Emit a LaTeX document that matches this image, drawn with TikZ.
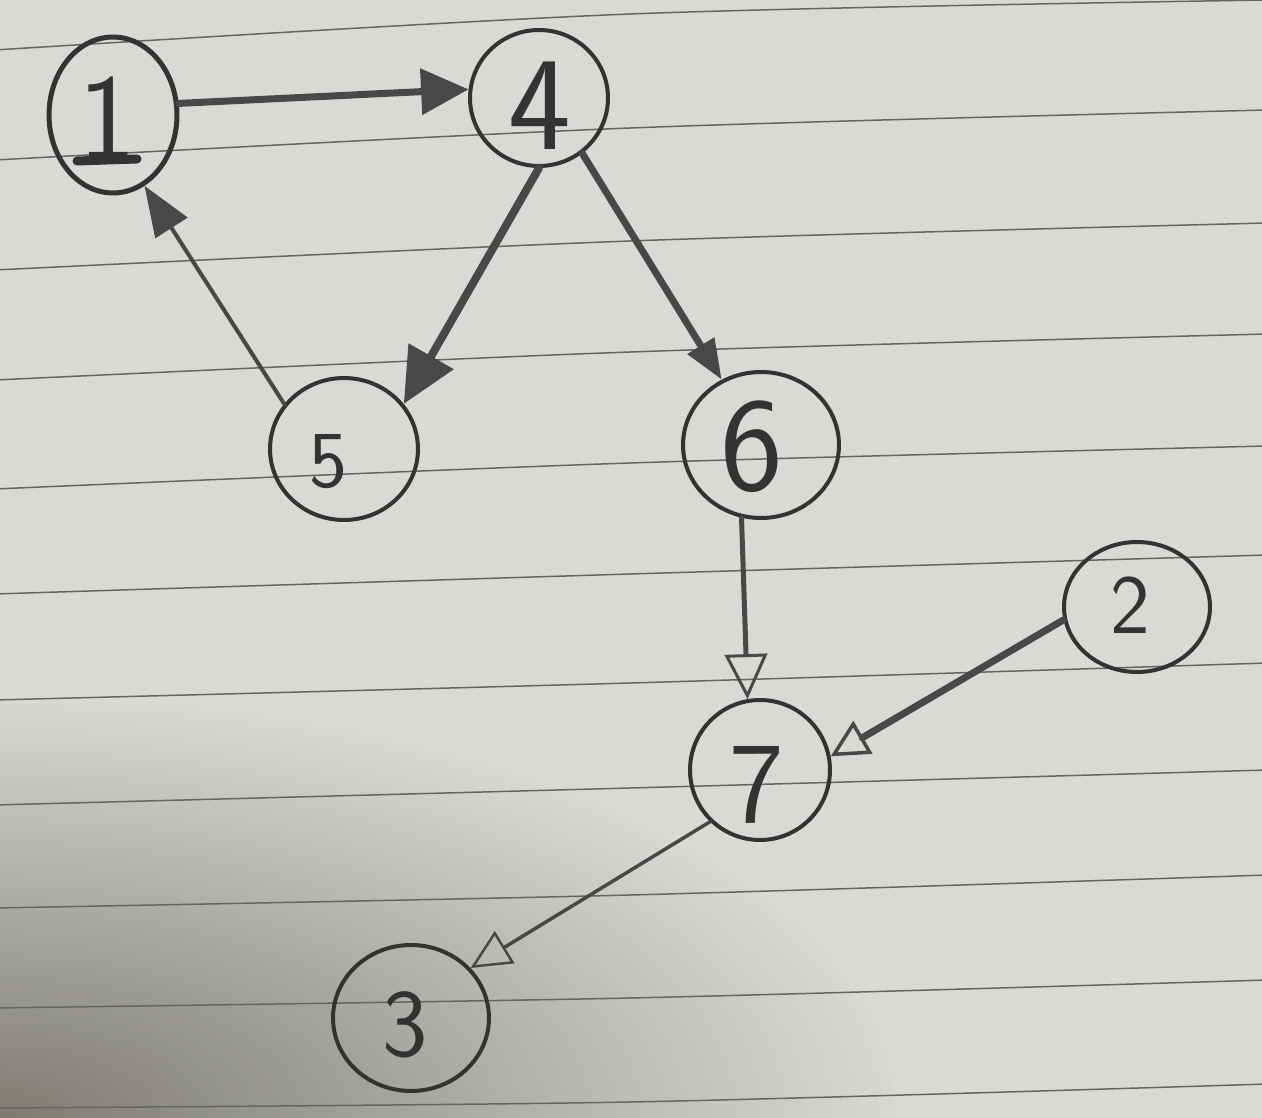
\documentclass[tikz,border=0pt]{standalone}
\usetikzlibrary{arrows.meta,shapes.geometric,fadings}
\definecolor{paper}{HTML}{DAD9D5}
\definecolor{shadowc}{HTML}{6E6B64}
\definecolor{ruling}{HTML}{666562}
\definecolor{pencil}{HTML}{333333}
\definecolor{edgegray}{HTML}{484848}
\tikzfading[name=softglow, inner color=transparent!0, outer color=transparent!100]
\begin{document}
\begin{tikzpicture}[x=0.02cm,y=-0.02cm,
  ell/.style={draw=pencil, ellipse, line width=0.08cm, inner sep=0pt},
  dig/.style={text=pencil, font=\sffamily\fontsize{#1}{#1}\selectfont, inner sep=0pt},
  conn/.style={draw=edgegray, line cap=round},
  rule/.style={draw=ruling, line width=0.03cm}]
\useasboundingbox (0,0) rectangle (1262,1118);
\begin{scope}
\clip (0,0) rectangle (1262,1118);
\fill[paper] (0,0) rectangle (1262,1118);
\fill[shadowc, opacity=.85, path fading=softglow] (0,1118) ellipse [x radius=900, y radius=420];
% ruled lines
\foreach \a/\b/\c in {50/14/0, 160/128/110, 270/241/223, 380/352/334, 489/463/446, 594/574/555, 700/683/663, 805/788/770, 908/895/875, 1008/998/980, 1108/1102/1084}
  \draw[rule] plot[smooth] coordinates {(-5,\a) (630,\b) (1267,\c)};
\end{scope}

% nodes
\node[ell, line width=0.1cm, minimum width=2.56cm, minimum height=3.12cm,
  label={[dig=70, xshift=-0.12cm, yshift=-0.06cm]center:1}] (n1) at (113,115) {};
\node[ell, minimum width=2.76cm, minimum height=2.72cm,
  label={[dig=76, xshift=0.02cm, yshift=-0.16cm]center:4}] (n4) at (539,98) {};
\node[ell, minimum width=2.96cm, minimum height=2.84cm,
  label={[dig=46, xshift=-0.32cm, yshift=-0.26cm]center:5}] (n5) at (344,449) {};
\node[ell, minimum width=3.12cm, minimum height=2.92cm,
  label={[dig=76, xshift=-0.18cm, yshift=-0.04cm]center:6}] (n6) at (761,445) {};
\node[ell, minimum width=2.92cm, minimum height=2.6cm,
  label={[dig=48, xshift=-0.14cm, yshift=0.04cm]center:2}] (n2) at (1137,607) {};
\node[ell, minimum width=2.8cm, minimum height=2.8cm,
  label={[dig=66, xshift=-0.06cm, yshift=-0.3cm]center:7}] (n7) at (760,770) {};
\node[ell, minimum width=3.12cm, minimum height=2.92cm,
  label={[dig=55, xshift=-0.12cm, yshift=-0.14cm]center:3}] (n3) at (411,1018) {};

% underline of the 1
\draw[pencil, line width=0.18cm, line cap=round] ([shift={(-36,46)}]n1.center) -- ([shift={(24,44)}]n1.center);

% connectors
\draw[conn, line width=0.14cm, -{Triangle[length=0.95cm, width=0.9cm]}] (n1.10) -- (n4.173);
\draw[conn, line width=0.08cm, -{Triangle[length=1.0cm, width=0.75cm]}] (n5.143) -- (n1.294);
\draw[conn, line width=0.16cm, -{Triangle[length=1.1cm, width=1.0cm]}] (n4.270) -- (n5.37);
\draw[conn, line width=0.14cm, -{Triangle[length=0.8cm, width=0.6cm]}] (n4.308) -- (n6.121);
\draw[conn, line width=0.1cm, -{Triangle[open, length=0.9cm, width=0.85cm, line width=0.06cm]}] (n6.255) -- (n7.100);
\draw[conn, line width=0.14cm, -{Triangle[open, length=0.75cm, width=0.75cm, line width=0.07cm]}] (n2.190) -- (n7.11);
\draw[conn, line width=0.07cm, -{Triangle[open, length=0.8cm, width=0.75cm, line width=0.05cm]}] (n7.226) -- (n3.40);
\end{tikzpicture}
\end{document}
